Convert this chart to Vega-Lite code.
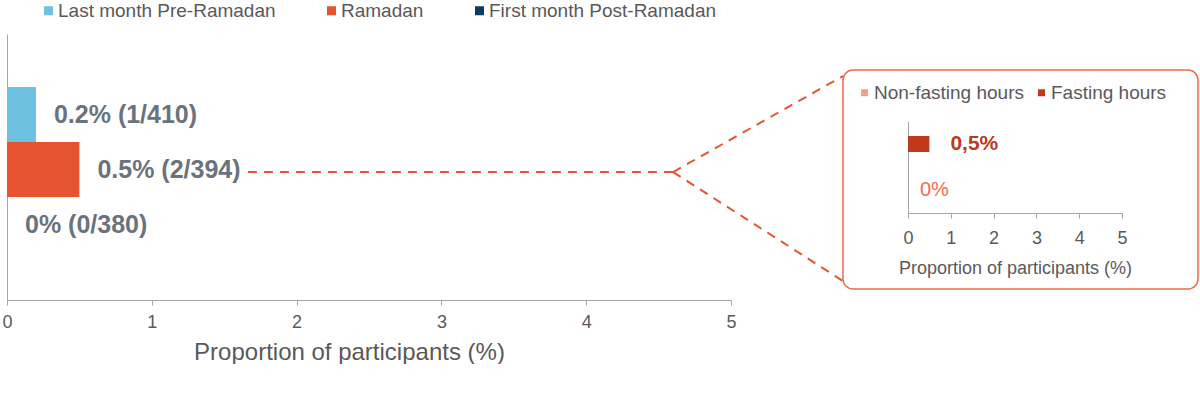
{
  "$schema": "https://vega.github.io/schema/vega-lite/v6.json",
  "background": "white",
  "padding": {"left": 1, "top": 1, "right": 0, "bottom": 0},
  "config": {
    "font": "Liberation Sans",
    "view": {"stroke": null},
    "axis": {"domainColor": "#a6a6a6", "tickColor": "#a6a6a6", "labelColor": "#595959", "titleColor": "#595959", "grid": false, "labelFont": "Liberation Sans", "titleFont": "Liberation Sans", "titleFontWeight": "normal", "labelFlush": false},
    "legend": {"labelFont": "Liberation Sans", "labelLimit": 500}
  },
  "datasets": {
    "main": [
      {"period": "Last month Pre-Ramadan", "pct": 0.2, "label": "0.2% (1/410)"},
      {"period": "Ramadan", "pct": 0.5, "label": "0.5% (2/394)"},
      {"period": "First month Post-Ramadan", "pct": 0, "label": "0% (0/380)"}
    ],
    "connectors": [
      {"x": 1.664, "y": 0.481, "x2": 4.6, "y2": 0.481},
      {"x": 4.6, "y": 0.481, "x2": 5.773, "y2": 0.842},
      {"x": 4.6, "y": 0.481, "x2": 5.773, "y2": 0.0714}
    ],
    "inset": [
      {"hours": "Fasting hours", "pct": 0.5, "label": "0,5%"},
      {"hours": "Non-fasting hours", "pct": 0, "label": "0%"}
    ],
    "frame": [
      {"x": -1.519, "x2": 6.776, "y": 1.554, "y2": -0.826}
    ]
  },
  "spacing": 177,
  "bounds": "flush",
  "center": true,
  "resolve": {"scale": {"color": "independent", "x": "independent", "y": "independent"}, "legend": {"color": "independent"}},
  "hconcat": [
    {
      "width": 724,
      "height": 266,
      "layer": [
        {
          "data": {"name": "main"},
          "layer": [
            {
              "mark": {"type": "bar"},
              "encoding": {
                "y": {"field": "period", "type": "nominal", "sort": ["Last month Pre-Ramadan", "Ramadan", "First month Post-Ramadan"], "scale": {"paddingInner": 0, "paddingOuter": 0.918, "align": 0.525}, "axis": {"labels": false, "ticks": false, "title": null}},
                "x": {"field": "pct", "type": "quantitative", "scale": {"domain": [0, 5]}, "axis": {"values": [0, 1, 2, 3, 4, 5], "format": "d", "labelFontSize": 18, "tickSize": 5, "labelPadding": 8, "title": "Proportion of participants (%)", "titleFontSize": 24, "titleX": 342, "titleY": 52, "titleBaseline": "middle"}},
                "color": {"field": "period", "type": "nominal", "scale": {"domain": ["Last month Pre-Ramadan", "Ramadan", "First month Post-Ramadan"], "range": ["#6EC1E0", "#E8532F", "#0D3B5E"]}, "legend": {"orient": "none", "legendX": 32, "legendY": -33, "direction": "horizontal", "title": null, "symbolType": "square", "symbolSize": 81, "symbolStrokeWidth": 0, "labelFontSize": 19, "labelColor": "#595959", "columnPadding": 46, "labelOffset": 0}}
              }
            },
            {
              "mark": {"type": "text", "align": "left", "baseline": "middle", "dx": 18, "fontSize": 25, "fontWeight": "bold", "color": "#6A737D"},
              "encoding": {
                "y": {"field": "period", "type": "nominal", "sort": ["Last month Pre-Ramadan", "Ramadan", "First month Post-Ramadan"]},
                "x": {"field": "pct", "type": "quantitative"},
                "text": {"field": "label"}
              }
            }
          ]
        },
        {
          "data": {"name": "connectors"},
          "mark": {"type": "rule", "color": "#E8532F", "strokeWidth": 2, "strokeDash": [9, 7], "clip": false},
          "encoding": {
            "x": {"field": "x", "type": "quantitative"},
            "x2": {"field": "x2"},
            "y": {"field": "y", "type": "quantitative", "scale": {"domain": [0, 1]}, "axis": null},
            "y2": {"field": "y2"}
          }
        }
      ],
      "resolve": {"scale": {"y": "independent"}}
    },
    {
      "width": 214,
      "height": 92,
      "layer": [
        {
          "data": {"name": "frame"},
          "mark": {"type": "rect", "fill": "white", "fillOpacity": 0, "stroke": "#EE6A4C", "strokeWidth": 1.5, "cornerRadius": 10, "clip": false},
          "encoding": {
            "x": {"field": "x", "type": "quantitative"},
            "x2": {"field": "x2"},
            "y": {"field": "y", "type": "quantitative", "scale": {"domain": [0, 1]}, "axis": null},
            "y2": {"field": "y2"}
          }
        },
        {
          "data": {"name": "inset"},
          "layer": [
            {
              "mark": {"type": "bar"},
              "encoding": {
                "y": {"field": "hours", "type": "nominal", "sort": ["Fasting hours", "Non-fasting hours"], "scale": {"paddingInner": 0.652, "paddingOuter": 0.326}, "axis": {"labels": false, "ticks": false, "title": null}},
                "x": {"field": "pct", "type": "quantitative", "scale": {"domain": [0, 5]}, "axis": {"values": [0, 1, 2, 3, 4, 5], "format": "d", "labelFontSize": 18, "tickSize": 5, "labelPadding": 11, "title": "Proportion of participants (%)", "titleFontSize": 18, "titlePadding": 12}},
                "color": {"field": "hours", "type": "nominal", "scale": {"domain": ["Non-fasting hours", "Fasting hours"], "range": ["#F4A08A", "#C0391B"]}, "legend": {"orient": "none", "legendX": -53, "legendY": -38, "direction": "horizontal", "title": null, "symbolType": "square", "symbolSize": 49, "symbolStrokeWidth": 0, "labelFontSize": 19, "labelColor": "#595959", "columnPadding": 8, "labelOffset": 0}}
              }
            },
            {
              "transform": [{"filter": "datum.hours === 'Fasting hours'"}],
              "mark": {"type": "text", "align": "left", "baseline": "middle", "dx": 21, "fontSize": 21, "fontWeight": "bold", "color": "#C0391B"},
              "encoding": {
                "y": {"field": "hours", "type": "nominal", "sort": ["Fasting hours", "Non-fasting hours"]},
                "x": {"field": "pct", "type": "quantitative"},
                "text": {"field": "label"}
              }
            },
            {
              "transform": [{"filter": "datum.hours === 'Non-fasting hours'"}],
              "mark": {"type": "text", "align": "left", "baseline": "middle", "dx": 12, "fontSize": 20, "color": "#F26B4F"},
              "encoding": {
                "y": {"field": "hours", "type": "nominal", "sort": ["Fasting hours", "Non-fasting hours"]},
                "x": {"field": "pct", "type": "quantitative"},
                "text": {"field": "label"}
              }
            }
          ]
        }
      ],
      "resolve": {"scale": {"y": "independent"}}
    }
  ]
}
